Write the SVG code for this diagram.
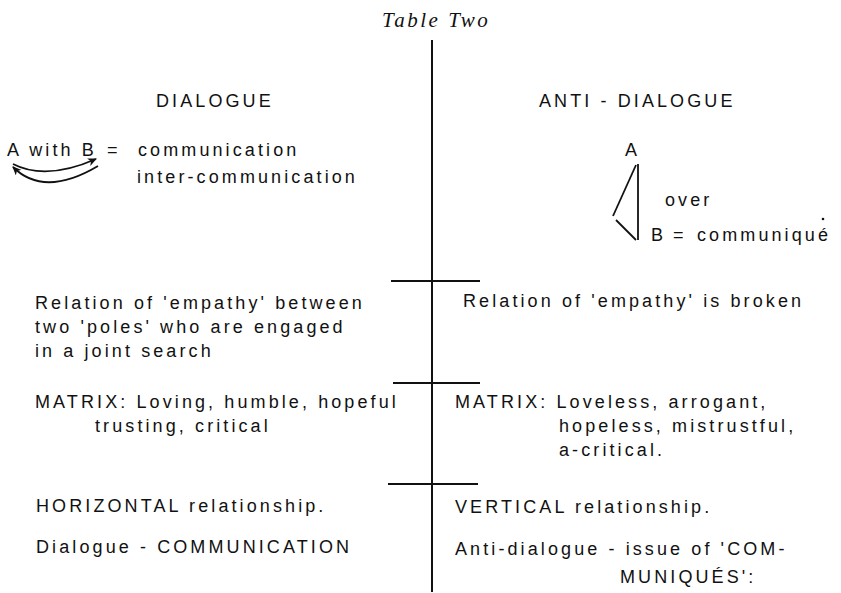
<svg xmlns="http://www.w3.org/2000/svg" width="841" height="593" viewBox="0 0 841 593">
<style>
  text { font-family: "Liberation Sans", Arial, sans-serif; font-size: 18px; letter-spacing: 3.1px; fill: #111; }
  .title { font-family: "Liberation Serif", "Times New Roman", serif; font-style: italic; font-size: 21px; letter-spacing: 2.5px; }
  .rule { stroke: #111; stroke-width: 2; fill: none; stroke-linecap: butt; }
  .thin { stroke: #111; stroke-width: 1.8; fill: none; }
</style>
<defs>
  <marker id="ah" viewBox="0 0 9 8" refX="8" refY="4" markerWidth="9" markerHeight="8" markerUnits="userSpaceOnUse" orient="auto">
    <path d="M0,0 L9,4 L0,8 L2.5,4 z" fill="#111"/>
  </marker>
</defs>
<rect width="841" height="593" fill="#fff"/>

<g id="title"><text class="title" x="382" y="27">Table Two</text></g>

<g id="connectors">
  <line class="rule" x1="432" y1="40" x2="432" y2="592"/>
  <line class="rule" x1="391" y1="281" x2="480" y2="281"/>
  <line class="rule" x1="393" y1="383" x2="480" y2="383"/>
  <line class="rule" x1="388" y1="484" x2="478" y2="484"/>
  <path class="thin" d="M13,164 Q46,181 96,159" marker-end="url(#ah)"/>
  <path class="thin" d="M98,166 Q44,198 13,167" marker-end="url(#ah)"/>
  <line class="thin" x1="638" y1="164" x2="638" y2="240"/>
  <line class="thin" x1="636" y1="165" x2="613" y2="216"/>
  <line class="thin" x1="616" y1="220" x2="636" y2="240"/>
  <circle cx="823" cy="219" r="1.3" fill="#111"/>
</g>

<g id="dialogue-head"><text x="156" y="107">DIALOGUE</text></g>
<g id="anti-dialogue-head"><text x="539" y="107">ANTI - DIALOGUE</text></g>

<g id="dialogue-formula">
  <text x="7" y="156">A with B</text>
  <text x="107" y="156">=</text>
  <text x="138" y="156">communication</text>
  <text x="137" y="183">inter-communication</text>
</g>

<g id="anti-formula">
  <text x="625" y="156">A</text>
  <text x="665" y="206">over</text>
  <text x="651" y="241">B</text>
  <text x="673" y="241">=</text>
  <text x="697" y="241">communiqué</text>
</g>

<g id="dialogue-empathy">
  <text x="35" y="309">Relation of 'empathy' between</text>
  <text x="35" y="333">two 'poles' who are engaged</text>
  <text x="35" y="357">in a joint search</text>
</g>
<g id="anti-empathy"><text x="463" y="307">Relation of 'empathy' is broken</text></g>

<g id="dialogue-matrix">
  <text x="35" y="408">MATRIX: Loving, humble, hopeful</text>
  <text x="95" y="432">trusting, critical</text>
</g>
<g id="anti-matrix">
  <text x="455" y="408">MATRIX: Loveless, arrogant,</text>
  <text x="559" y="432">hopeless, mistrustful,</text>
  <text x="559" y="456">a-critical.</text>
</g>

<g id="dialogue-relationship"><text x="36" y="512">HORIZONTAL relationship.</text></g>
<g id="anti-relationship"><text x="455" y="513">VERTICAL relationship.</text></g>

<g id="dialogue-communication"><text x="36" y="553">Dialogue - COMMUNICATION</text></g>
<g id="anti-communication">
  <text x="455" y="555">Anti-dialogue - issue of 'COM-</text>
  <text x="620" y="583">MUNIQUÉS':</text>
</g>
</svg>
